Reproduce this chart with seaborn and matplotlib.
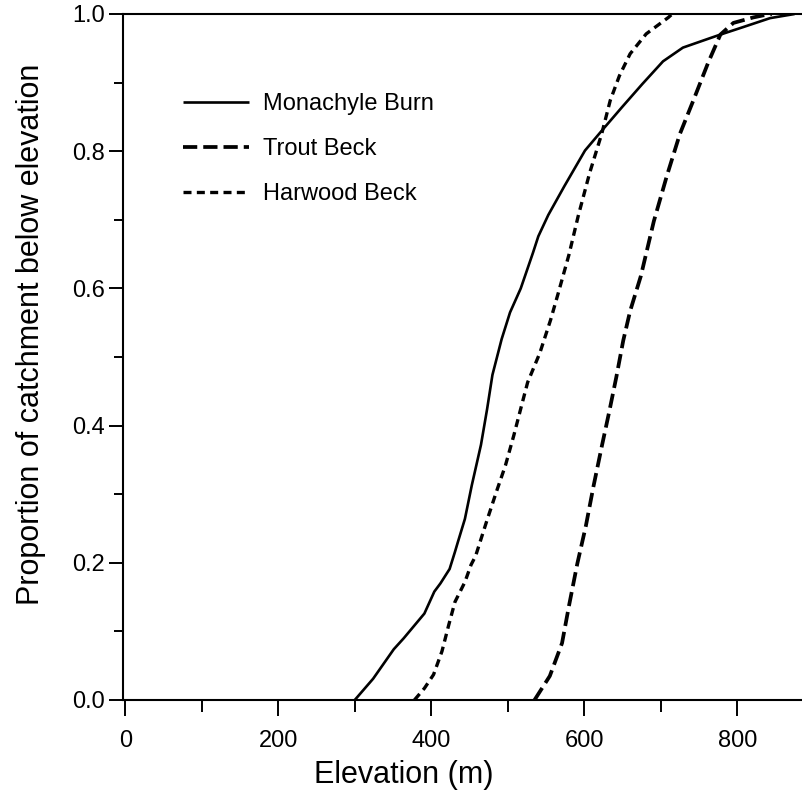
import matplotlib
matplotlib.use("Agg")
import matplotlib.pyplot as plt
from matplotlib.ticker import MultipleLocator, FormatStrFormatter
import seaborn as sns
import pandas as pd

# ---- data ----
monachyle_elev = [300, 324, 351, 364, 391, 404, 412, 424, 431, 435, 444, 453, 465, 473,
                  480, 492, 503, 517, 533, 540, 553, 574, 601, 623, 650, 676, 703, 729,
                  765, 778, 808, 843, 875]
monachyle_prop = [0.0, 0.031, 0.074, 0.090, 0.126, 0.158, 0.170, 0.191, 0.216, 0.231,
                  0.264, 0.313, 0.372, 0.424, 0.474, 0.526, 0.565, 0.600, 0.652, 0.676,
                  0.707, 0.749, 0.801, 0.830, 0.865, 0.898, 0.931, 0.951, 0.965, 0.970,
                  0.981, 0.994, 1.0]

trout_elev = [535, 555, 571, 580, 591, 602, 612, 623, 633, 642, 651, 660, 674, 691, 708,
              725, 743, 762, 778, 795, 821, 834, 845]
trout_prop = [0.0, 0.035, 0.083, 0.137, 0.199, 0.253, 0.311, 0.370, 0.422, 0.471, 0.524,
              0.567, 0.618, 0.698, 0.764, 0.825, 0.875, 0.929, 0.970, 0.987, 0.995,
              0.998, 1.0]

harwood_elev = [378, 391, 403, 414, 423, 431, 444, 452, 458, 472, 485, 497, 508, 518, 526,
                542, 556, 566, 580, 592, 607, 623, 634, 646, 660, 681, 710, 715]
harwood_prop = [0.0, 0.017, 0.037, 0.071, 0.110, 0.143, 0.172, 0.197, 0.210, 0.259, 0.303,
                0.342, 0.386, 0.429, 0.463, 0.506, 0.554, 0.593, 0.649, 0.705, 0.768,
                0.826, 0.874, 0.910, 0.942, 0.971, 0.995, 1.0]

series_names = ["Monachyle Burn", "Trout Beck", "Harwood Beck"]
x_ticks = [0, 200, 400, 600, 800]
y_ticks = [0.0, 0.2, 0.4, 0.6, 0.8, 1.0]

# ---- style ----
sns.set_style("ticks")
plt.rcParams["font.family"] = ["Liberation Sans", "DejaVu Sans"]
plt.rcParams["text.color"] = "black"
plt.rcParams["axes.labelcolor"] = "black"
plt.rcParams["xtick.color"] = "black"
plt.rcParams["ytick.color"] = "black"

fig = plt.figure(figsize=(8.03, 8.01), dpi=100)
ax = fig.add_axes([123 / 803, 101 / 801, 1 - 123 / 803, (801 - 14 - 101) / 801])

styles = {
    "Monachyle Burn": dict(lw=1.9, ls="-"),
    "Trout Beck": dict(lw=2.7, ls=(0, (3.8, 1.6))),
    "Harwood Beck": dict(lw=2.4, ls=(0, (2.4, 1.6))),
}
data = {
    "Monachyle Burn": (monachyle_elev, monachyle_prop),
    "Trout Beck": (trout_elev, trout_prop),
    "Harwood Beck": (harwood_elev, harwood_prop),
}
for name in series_names:
    xs, ys = data[name]
    df = pd.DataFrame({"Elevation": xs, "Proportion": ys})
    sns.lineplot(data=df, x="Elevation", y="Proportion", ax=ax, color="black",
                 estimator=None, sort=False, label=name, clip_on=True,
                 dash_capstyle="butt", solid_capstyle="butt", **styles[name])

ax.set_xlim(-3, 886)
ax.set_ylim(0, 1.0)
ax.set_xticks(x_ticks)
ax.set_yticks(y_ticks)
ax.xaxis.set_minor_locator(MultipleLocator(100))
ax.yaxis.set_minor_locator(MultipleLocator(0.1))
ax.yaxis.set_major_formatter(FormatStrFormatter("%.1f"))

for s in ["left", "bottom", "top"]:
    ax.spines[s].set_linewidth(1.5)
    ax.spines[s].set_color("black")
ax.spines["right"].set_visible(False)

ax.tick_params(axis="x", which="major", direction="out", length=11.5, width=1.4,
               pad=10, labelsize=17, colors="black")
ax.tick_params(axis="x", which="minor", direction="out", length=8.5, width=1.4)
ax.tick_params(axis="y", which="major", direction="out", length=10, width=1.4,
               pad=3, labelsize=17, colors="black")
ax.tick_params(axis="y", which="minor", direction="out", length=6.5, width=1.4)

ax.set_xlabel("Elevation (m)", fontsize=22, va="center", color="black")
ax.set_ylabel("Proportion of catchment below elevation", fontsize=22, va="center",
              color="black")
ax.xaxis.set_label_coords(0.413, -0.11)
ax.yaxis.set_label_coords(-0.135, 0.533)

leg = ax.legend(loc="upper left", bbox_to_anchor=(0.088, 0.885), frameon=False,
                fontsize=17, handlelength=2.8, handletextpad=0.6, labelspacing=0.98,
                borderpad=0, borderaxespad=0)
for t in leg.get_texts():
    t.set_color("black")

fig.savefig("out.png", dpi=100)
